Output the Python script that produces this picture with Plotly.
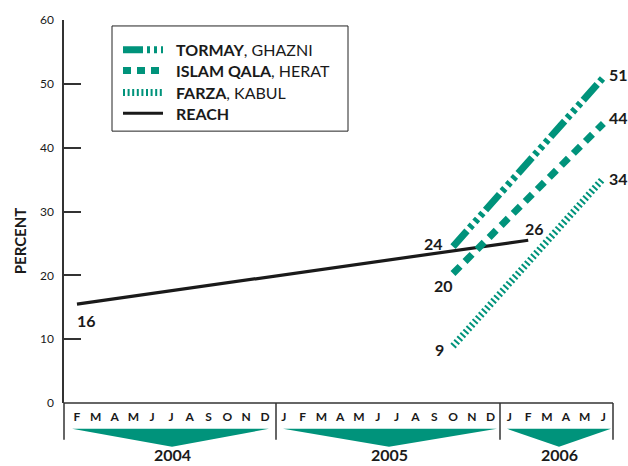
import plotly.graph_objects as go

# ---------------- data ----------------
months_2004 = ["F", "M", "A", "M", "J", "J", "A", "S", "O", "N", "D"]
months_2005 = ["J", "F", "M", "A", "M", "J", "J", "A", "S", "O", "N", "D"]
months_2006 = ["J", "F", "M", "A", "M", "J"]
years = ["2004", "2005", "2006"]

reach_x = ["2004-02", "2006-02"]
reach_y = [15.5, 25.5]
reach_labels = ["16", "26"]

site_x = ["2005-10", "2006-06"]
tormay_y = [24.5, 51]
tormay_labels = ["24", "51"]
islam_y = [20.3, 43.8]
islam_labels = ["20", "44"]
farza_y = [8.9, 35.2]
farza_labels = ["9", "34"]

y_ticks = [0, 10, 20, 30, 40, 50, 60]

# ---------------- helpers ----------------
month_labels = months_2004 + months_2005 + months_2006
month_keys = ([f"2004-{m:02d}" for m in range(2, 13)] +
              [f"2005-{m:02d}" for m in range(1, 13)] +
              [f"2006-{m:02d}" for m in range(1, 7)])
idx = {k: i for i, k in enumerate(month_keys)}

TEAL = "#00937B"
INK = "#1a1a1a"
FONT = "Lato"

W, H = 628, 466
L, R, T, B = 64, 15, 17, 63
PW, PH = W - L - R, H - T - B
X0, X1 = -0.69, 28.51


def px(xp):
    return (xp - L) / PW


def py(yp):
    return (H - B - yp) / PH


fig = go.Figure()

fig.add_trace(go.Scatter(
    x=[idx[k] for k in reach_x], y=reach_y, mode="lines",
    line=dict(color=INK, width=3.2), name="REACH", showlegend=False))
fig.add_trace(go.Scatter(
    x=[idx[k] for k in site_x], y=tormay_y, mode="lines",
    line=dict(color=TEAL, width=7, dash="21px,4px,4px,4px,4px,4px,4px,4px"),
    name="TORMAY", showlegend=False))
fig.add_trace(go.Scatter(
    x=[idx[k] for k in site_x], y=islam_y, mode="lines",
    line=dict(color=TEAL, width=7, dash="10px,7px"),
    name="ISLAM QALA", showlegend=False))
fig.add_trace(go.Scatter(
    x=[idx[k] for k in site_x], y=farza_y, mode="lines",
    line=dict(color=TEAL, width=7, dash="2px,2.6px"),
    name="FARZA", showlegend=False))

annotations = []
lab_font = dict(family=FONT, size=16, color=INK, weight="bold")


def lab(x, y, text, xs, ys, xa="center"):
    annotations.append(dict(x=x, y=y, xref="x", yref="y", text=text,
                            showarrow=False, xshift=xs, yshift=ys,
                            xanchor=xa, yanchor="middle", font=lab_font))


lab(idx[reach_x[0]], reach_y[0], reach_labels[0], 10, -16)
lab(idx[reach_x[1]], reach_y[1], reach_labels[1], 6, 12)
lab(idx[site_x[0]], tormay_y[0], tormay_labels[0], -20, 3)
lab(idx[site_x[0]], islam_y[0], islam_labels[0], -10, -12)
lab(idx[site_x[0]], farza_y[0], farza_labels[0], -14, -3)
lab(idx[site_x[1]], tormay_y[1], tormay_labels[1], 4, 3, "left")
lab(idx[site_x[1]], islam_y[1], islam_labels[1], 4, 6, "left")
lab(idx[site_x[1]], farza_y[1], farza_labels[1], 4, 0, "left")

shapes = []
axc = "#333333"
# vertical extenders below axis
for xp in [64, 276, 500, 613]:
    shapes.append(dict(type="line", xref="paper", yref="paper",
                       x0=px(xp), x1=px(xp), y0=py(403), y1=py(440),
                       line=dict(color=axc, width=1.5)))
# baseline
shapes.append(dict(type="line", xref="paper", yref="paper",
                   x0=px(64), x1=px(613), y0=0, y1=0,
                   line=dict(color=axc, width=1.5)))

# year triangles
tri = [(72, 269, 172), (283, 497, 389), (507, 611, 559)]
for (a, b, c), yr in zip(tri, years):
    shapes.append(dict(type="path", xref="paper", yref="paper",
                       path=f"M {px(a)} {py(429)} L {px(b)} {py(429)} L {px(c)} {py(447)} Z",
                       fillcolor=TEAL, line=dict(width=0)))
    annotations.append(dict(x=px(c), y=py(466), xref="paper", yref="paper",
                            text=yr, showarrow=False, xanchor="center", yanchor="bottom",
                            font=dict(family=FONT, size=16, color=INK, weight="bold")))

# legend box
shapes.append(dict(type="rect", xref="paper", yref="paper",
                   x0=px(112), x1=px(348), y0=py(129), y1=py(23),
                   line=dict(color="#222222", width=1), fillcolor="white"))
leg = [
    ("<b>TORMAY</b>, GHAZNI", dict(color=TEAL, width=7, dash="20px,4px,3px,4px,3px,4px,3px,4px")),
    ("<b>ISLAM QALA</b>, HERAT", dict(color=TEAL, width=7, dash="8px,6px")),
    ("<b>FARZA</b>, KABUL", dict(color=TEAL, width=7, dash="2px,2.6px")),
    ("<b>REACH</b>", dict(color=INK, width=3.2)),
]
for (txt, ln), yrow in zip(leg, [47, 68, 90, 111]):
    shapes.append(dict(type="line", xref="paper", yref="paper",
                       x0=px(123), x1=px(163), y0=py(yrow), y1=py(yrow), line=ln))
    annotations.append(dict(x=px(174), y=py(yrow), xref="paper", yref="paper",
                            text=txt, showarrow=False, xanchor="left", yanchor="middle",
                            font=dict(family=FONT, size=16, color=INK)))

annotations.append(dict(x=px(20), y=py(240), xref="paper", yref="paper",
                        text="PERCENT", textangle=-90, showarrow=False,
                        xanchor="center", yanchor="middle",
                        font=dict(family=FONT, size=15, color=INK, weight="bold")))

fig.update_layout(
    width=W, height=H, margin=dict(l=L, r=R, t=T, b=B),
    paper_bgcolor="white", plot_bgcolor="white",
    showlegend=False, shapes=shapes, annotations=annotations,
    xaxis=dict(range=[X0, X1], tickmode="array",
               tickvals=list(range(len(month_labels))), ticktext=month_labels,
               showgrid=False, zeroline=False, showline=False, ticks="",
               tickfont=dict(family=FONT, size=12, color=INK, weight="bold"),
               ticklabelstandoff=5, fixedrange=True),
    yaxis=dict(range=[0, 60], tickvals=y_ticks, showgrid=False, zeroline=False,
               showline=True, linecolor=axc, linewidth=1.5,
               ticks="inside", ticklen=17, tickwidth=1.5, tickcolor=axc,
               tickfont=dict(family=FONT, size=12, color=INK),
               ticklabelstandoff=6, fixedrange=True),
)

fig.write_html("out.html", config={"displayModeBar": False},
               post_script="document.body.style.margin='0';document.body.style.overflow='hidden';")
